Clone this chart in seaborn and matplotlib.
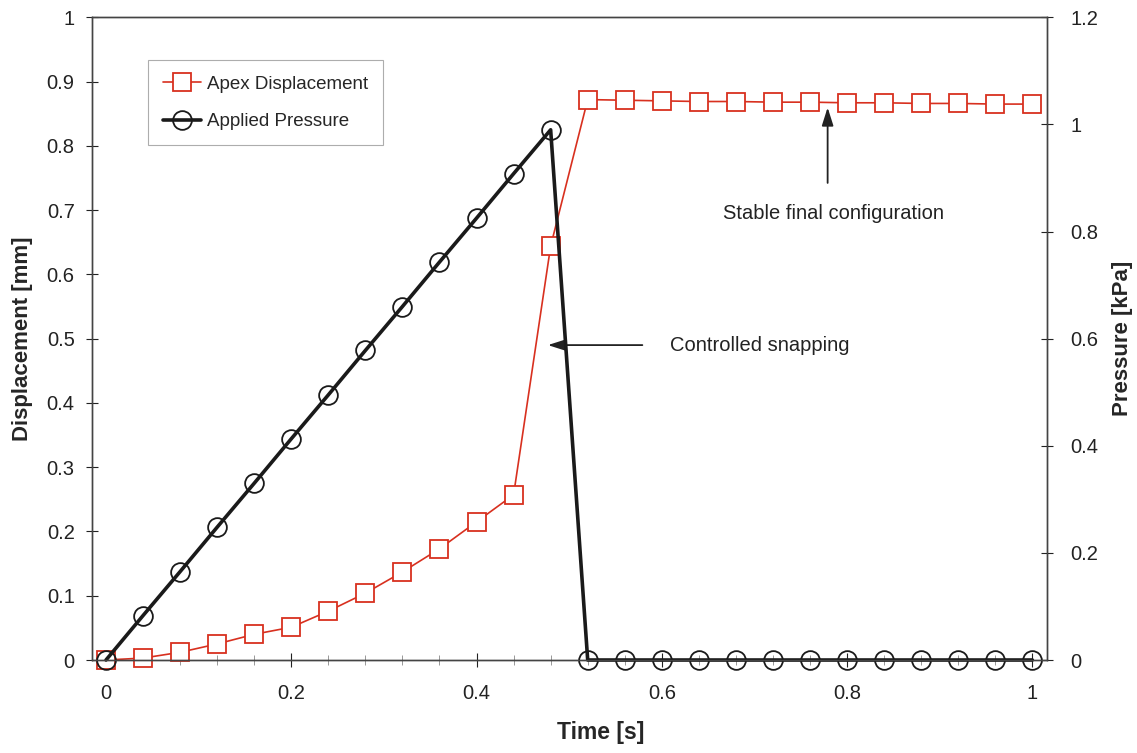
import numpy as np
import pandas as pd
import matplotlib
matplotlib.use("Agg")
import matplotlib.pyplot as plt
import seaborn as sns
from matplotlib.ticker import MultipleLocator, FuncFormatter

# data
time_s = [0.00, 0.04, 0.08, 0.12, 0.16, 0.20, 0.24, 0.28, 0.32, 0.36, 0.40, 0.44, 0.48,
          0.52, 0.56, 0.60, 0.64, 0.68, 0.72, 0.76, 0.80, 0.84, 0.88, 0.92, 0.96, 1.00]
displacement_mm = [0.000, 0.003, 0.012, 0.025, 0.040, 0.051, 0.076, 0.104, 0.137, 0.173,
                   0.215, 0.257, 0.644, 0.872, 0.871, 0.870, 0.869, 0.869, 0.868, 0.868,
                   0.867, 0.867, 0.866, 0.866, 0.865, 0.865]
pressure_kpa = [0.000, 0.083, 0.165, 0.248, 0.330, 0.413, 0.495, 0.578, 0.660, 0.743,
                0.825, 0.908, 0.990, 0.000, 0.000, 0.000, 0.000, 0.000, 0.000, 0.000,
                0.000, 0.000, 0.000, 0.000, 0.000, 0.000]

df = pd.DataFrame({"time": time_s, "disp": displacement_mm, "pres": pressure_kpa})

sns.set_style("white")
plt.rcParams["font.family"] = ["Liberation Sans", "DejaVu Sans"]

fig = plt.figure(figsize=(11.37, 7.53), dpi=100)
ax = fig.add_axes([0.081, 0.1235, 0.84, 0.8535])
ax2 = ax.twinx()

sns.lineplot(data=df, x="time", y="disp", ax=ax, color="#d8301f", lw=1.2,
             marker="s", markersize=12.5, markerfacecolor="white",
             markeredgecolor="#d8301f", markeredgewidth=1.3, clip_on=False,
             label="Apex Displacement", legend=False)
sns.lineplot(data=df, x="time", y="pres", ax=ax2, color="#1a1a1a", lw=2.6,
             marker="o", markersize=13.5, markerfacecolor="none",
             markeredgecolor="#1a1a1a", markeredgewidth=1.3, clip_on=False,
             label="Applied Pressure", legend=False)

ax.set_xlim(-0.015, 1.016)
ax.set_ylim(0, 1)
ax2.set_ylim(0, 1.2)

fmt = FuncFormatter(lambda v, p: "%g" % round(v, 3))
ax.xaxis.set_major_locator(MultipleLocator(0.2))
ax.xaxis.set_minor_locator(MultipleLocator(0.04))
ax.yaxis.set_major_locator(MultipleLocator(0.1))
ax2.yaxis.set_major_locator(MultipleLocator(0.2))
for a in (ax, ax2):
    a.xaxis.set_major_formatter(fmt)
    a.yaxis.set_major_formatter(fmt)
    for s in a.spines.values():
        s.set_color("#444444")
        s.set_linewidth(1.0)

ax.tick_params(axis="x", which="major", direction="inout", length=10, width=0.8,
               pad=12, labelsize=14.5, colors="#222222", bottom=True)
ax.tick_params(axis="x", which="minor", direction="inout", length=7, width=0.6,
               bottom=True, colors="#888888")
ax.tick_params(axis="y", direction="inout", length=9, width=0.8, pad=8,
               labelsize=14.5, colors="#222222", left=True)
ax2.tick_params(axis="y", direction="inout", length=9, width=0.8, pad=12,
                labelsize=14.5, colors="#222222", right=True)

ax.set_xlabel("Time [s]", fontsize=16.5, fontweight="bold")
ax.xaxis.set_label_coords(0.532, -0.095)
ax.set_ylabel("Displacement [mm]", fontsize=16, fontweight="bold", labelpad=10)
ax2.set_ylabel("Pressure [kPa]", fontsize=16, fontweight="bold", rotation=90, labelpad=10)

h1, l1 = ax.get_legend_handles_labels()
h2, l2 = ax2.get_legend_handles_labels()
leg = ax2.legend(h1 + h2, l1 + l2, loc="upper left", bbox_to_anchor=(0.059, 0.933),
                 borderaxespad=0, fontsize=13.5, frameon=True, fancybox=False,
                 edgecolor="#999999", handlelength=2.0, borderpad=0.8,
                 labelspacing=1.1, handletextpad=0.3)
leg.get_frame().set_linewidth(0.8)

arrow = dict(arrowstyle="-|>,head_width=0.35,head_length=1.1", color="#222222", lw=1.3)
ax.annotate("", xy=(0.474, 0.49), xytext=(0.582, 0.49), arrowprops=arrow)
ax.text(0.609, 0.49, "Controlled snapping", fontsize=14.5, va="center", color="#222222")
ax.annotate("", xy=(0.779, 0.864), xytext=(0.779, 0.738), arrowprops=arrow)
ax.text(0.785, 0.695, "Stable final configuration", fontsize=14.5, ha="center",
        va="center", color="#222222")

fig.savefig("out.png", dpi=100)
